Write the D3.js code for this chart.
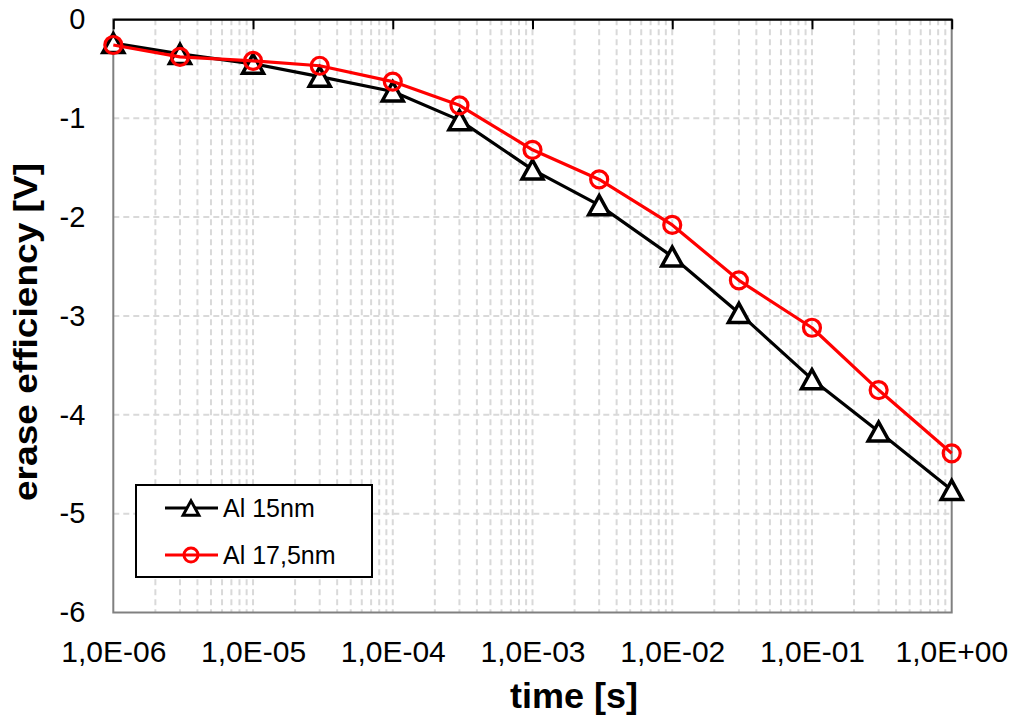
<!DOCTYPE html>
<html>
<head>
<meta charset="utf-8">
<script src="https://cdn.jsdelivr.net/npm/d3@7"></script>
<style>
  html, body { margin: 0; padding: 0; background: #fff; }
  svg { display: block; }
  text { font-family: Arial, "Liberation Sans", sans-serif; }
</style>
</head>
<body>
<svg id="chart" width="1018" height="717"></svg>
<script>
// ---- data ----
const times = [1e-6, 3e-6, 1e-5, 3e-5, 1e-4, 3e-4, 1e-3, 3e-3, 1e-2, 3e-2, 1e-1, 3e-1, 1];
const al15 = [-0.24, -0.35, -0.45, -0.58, -0.73, -1.02, -1.52, -1.88, -2.40, -2.97, -3.64, -4.17, -4.76];
const al175 = [-0.26, -0.38, -0.42, -0.47, -0.63, -0.87, -1.32, -1.62, -2.08, -2.64, -3.12, -3.75, -4.39];
const seriesNames = ["Al 15nm", "Al 17,5nm"];
const xTickValues = [1e-6, 1e-5, 1e-4, 1e-3, 1e-2, 1e-1, 1];
const xTickLabels = ["1,0E-06", "1,0E-05", "1,0E-04", "1,0E-03", "1,0E-02", "1,0E-01", "1,0E+00"];
const yTickValues = [0, -1, -2, -3, -4, -5, -6];
const yTickLabels = ["0", "-1", "-2", "-3", "-4", "-5", "-6"];
const xTitle = "time [s]";
const yTitle = "erase efficiency [V]";

// ---- layout ----
const L = 113.3, R = 951.7, T = 19.3, B = 612.5;
const svg = d3.select("#chart");
svg.append("rect").attr("width", 1018).attr("height", 717).attr("fill", "#fff");

const x = d3.scaleLog().domain([1e-6, 1]).range([L, R]);
const y = d3.scaleLinear().domain([-6, 0]).range([B, T]);

// grid
const grid = svg.append("g").attr("stroke", "#d9d9d9").attr("stroke-width", 2).attr("stroke-dasharray", "6,4");
grid.selectAll("line.v").data(x.ticks().filter(t => t > 1e-6 && t < 1))
  .join("line").attr("class", "v")
  .attr("x1", d => x(d)).attr("x2", d => x(d)).attr("y1", T).attr("y2", B);
grid.selectAll("line.h").data(yTickValues.filter(v => v > -6 && v < 0))
  .join("line").attr("class", "h")
  .attr("x1", L).attr("x2", R).attr("y1", d => y(d)).attr("y2", d => y(d));

// plot border
svg.append("rect").attr("x", L).attr("y", T).attr("width", R - L).attr("height", B - T)
  .attr("fill", "none").attr("stroke", "#808080").attr("stroke-width", 2);

// top axis (x axis crossing at 0) with inward ticks
const topAxis = svg.append("g").attr("transform", `translate(0,${T})`)
  .call(d3.axisBottom(x).tickValues(xTickValues).tickSize(10).tickSizeOuter(0).tickFormat(""));
topAxis.select(".domain").attr("stroke", "#000").attr("stroke-width", 2);
topAxis.selectAll(".tick line").attr("stroke", "#000").attr("stroke-width", 2);

// bottom labels
const botAxis = svg.append("g").attr("transform", `translate(0,${B})`)
  .call(d3.axisBottom(x).tickValues(xTickValues).tickSize(0).tickPadding(0)
    .tickFormat((d, i) => xTickLabels[i]));
botAxis.select(".domain").remove();
botAxis.selectAll(".tick text").attr("font-size", 30).attr("fill", "#000")
  .attr("font-family", "Arial, 'Liberation Sans', sans-serif")
  .attr("dy", null).attr("y", 49);
botAxis.selectAll(".tick").filter((d, i) => i === xTickValues.length - 1)
  .select("text").attr("text-anchor", "end").attr("x", 56);

// left labels
const leftAxis = svg.append("g").attr("transform", `translate(${L},0)`)
  .call(d3.axisLeft(y).tickValues(yTickValues).tickSize(0).tickPadding(28)
    .tickFormat((d, i) => yTickLabels[i]));
leftAxis.select(".domain").remove();
leftAxis.selectAll(".tick text").attr("font-size", 29).attr("fill", "#000")
  .attr("font-family", "Arial, 'Liberation Sans', sans-serif");

// titles
svg.append("text").attr("x", 574).attr("y", 708).attr("text-anchor", "middle")
  .attr("font-size", 35).attr("font-weight", "bold")
  .attr("textLength", 128).attr("lengthAdjust", "spacingAndGlyphs").text(xTitle);
svg.append("text").attr("transform", "translate(37,332) rotate(-90)").attr("text-anchor", "middle")
  .attr("font-size", 34).attr("font-weight", "bold")
  .attr("textLength", 338).attr("lengthAdjust", "spacingAndGlyphs").text(yTitle);

// series
const line = d3.line().x(d => x(d[0])).y(d => y(d[1]));
const s15 = times.map((t, i) => [t, al15[i]]);
const s175 = times.map((t, i) => [t, al175[i]]);
const triPath = "M0,-9.5L10.5,9.5L-10.5,9.5Z";

svg.append("path").datum(s15).attr("d", line).attr("fill", "none")
  .attr("stroke", "#000").attr("stroke-width", 3.2).attr("stroke-linejoin", "round");
svg.selectAll("path.tri").data(s15).join("path").attr("class", "tri")
  .attr("transform", d => `translate(${x(d[0])},${y(d[1])})`)
  .attr("d", triPath).attr("fill", "#fff").attr("stroke", "#000").attr("stroke-width", 3.5)
  .attr("stroke-linejoin", "miter");

svg.append("path").datum(s175).attr("d", line).attr("fill", "none")
  .attr("stroke", "#ff0000").attr("stroke-width", 3.2).attr("stroke-linejoin", "round");
svg.selectAll("circle.c").data(s175).join("circle").attr("class", "c")
  .attr("cx", d => x(d[0])).attr("cy", d => y(d[1])).attr("r", 8.5)
  .attr("fill", "none").attr("stroke", "#ff0000").attr("stroke-width", 3.2);

// legend
const lg = svg.append("g");
lg.append("rect").attr("x", 136).attr("y", 485).attr("width", 236).attr("height", 92)
  .attr("fill", "#fff").attr("stroke", "#000").attr("stroke-width", 2);
const rows = [{ name: seriesNames[0], color: "#000", mk: "tri", yy: 508 },
              { name: seriesNames[1], color: "#ff0000", mk: "circ", yy: 555 }];
rows.forEach(r => {
  lg.append("line").attr("x1", 165).attr("x2", 218).attr("y1", r.yy).attr("y2", r.yy)
    .attr("stroke", r.color).attr("stroke-width", 3);
  if (r.mk === "tri") {
    lg.append("path").attr("transform", `translate(191,${r.yy}) scale(0.75)`).attr("d", triPath)
      .attr("fill", "#fff").attr("stroke", r.color).attr("stroke-width", 4);
  } else {
    lg.append("circle").attr("cx", 191).attr("cy", r.yy).attr("r", 7)
      .attr("fill", "none").attr("stroke", r.color).attr("stroke-width", 3);
  }
  lg.append("text").attr("x", 223).attr("y", r.yy + 9).attr("font-size", 25).text(r.name);
});
</script>
</body>
</html>
